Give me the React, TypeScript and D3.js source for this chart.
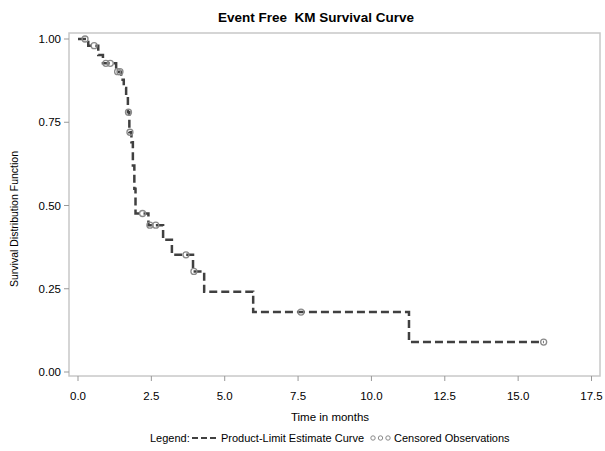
import React from "react";
import * as d3 from "d3";

const stepTimes = [0, 0.35, 0.69, 0.85, 1.3, 1.47, 1.56, 1.64, 1.7, 1.75, 1.82, 1.87, 1.92, 1.96, 2.4, 2.9, 3.2, 3.92, 4.3, 5.97, 11.28];
const survival = [1.0, 0.98, 0.952, 0.927, 0.902, 0.878, 0.853, 0.829, 0.78, 0.72, 0.69, 0.62, 0.55, 0.476, 0.441, 0.397, 0.352, 0.302, 0.241, 0.18, 0.09];
const endTime = 15.87;
const censoredTimes = [0.24, 0.55, 0.95, 1.1, 1.35, 1.43, 1.72, 1.77, 2.2, 2.45, 2.65, 3.68, 3.95, 7.6, 15.87];
const xTicks = [0, 2.5, 5, 7.5, 10, 12.5, 15, 17.5];
const yTicks = [0, 0.25, 0.5, 0.75, 1.0];

const W = 605, H = 451;
const font = "Arial, 'Liberation Sans', sans-serif";

export default function App() {
  const x = d3.scaleLinear().domain([0, 17.5]).range([78, 591.5]);
  const y = d3.scaleLinear().domain([0, 1]).range([372, 39]);
  const frame = { left: 69, right: 600, top: 33, bottom: 376 };

  const pts: [number, number][] = stepTimes.map((t, i) => [t, survival[i]]);
  pts.push([endTime, survival[survival.length - 1]]);
  const line = d3.line<[number, number]>()
    .x(d => x(d[0]))
    .y(d => y(d[1]))
    .curve(d3.curveStepAfter);

  const survAt = (t: number) => {
    const i = d3.bisectRight(stepTimes, t) - 1;
    return survival[Math.max(0, i)];
  };

  const curveColor = "#404040";
  const circColor = "#8a8a8a";

  return (
    <div style={{ position: "fixed", left: 0, top: 0 }}>
      <svg width={W} height={H} style={{ display: "block", background: "#fff" }} fontFamily={font}>
        <text x={316} y={22} textAnchor="middle" fontSize={13.5} fontWeight="bold" style={{ whiteSpace: "pre" }}>
          {"Event Free  KM Survival Curve"}
        </text>
        <rect x={frame.left} y={frame.top} width={frame.right - frame.left} height={frame.bottom - frame.top}
          fill="none" stroke="#c8c8c8" strokeWidth={1.5} />
        {yTicks.map(t => (
          <g key={"y" + t}>
            <line x1={frame.left - 5} x2={frame.left} y1={y(t)} y2={y(t)} stroke="#999" strokeWidth={1} />
            <text x={61} y={y(t) + 4} textAnchor="end" fontSize={11.5}>{d3.format(".2f")(t)}</text>
          </g>
        ))}
        {xTicks.map(t => (
          <g key={"x" + t}>
            <line x1={x(t)} x2={x(t)} y1={frame.bottom} y2={frame.bottom + 5} stroke="#999" strokeWidth={1} />
            <text x={x(t)} y={400} textAnchor="middle" fontSize={11.5}>{d3.format(".1f")(t)}</text>
          </g>
        ))}
        <text transform={`translate(18,219) rotate(-90)`} textAnchor="middle" fontSize={11.5}
          textLength={136} lengthAdjust="spacingAndGlyphs">Survival Distribution Function</text>
        <text x={330} y={421} textAnchor="middle" fontSize={11.5}>Time in months</text>

        <path d={line(pts) || ""} fill="none" stroke={curveColor} strokeWidth={2.5} strokeDasharray="8,4" />
        {censoredTimes.map((t, i) => (
          <circle key={"c" + i} cx={x(t)} cy={y(survAt(t))} r={3} fill="none" stroke={circColor} strokeWidth={1.3} />
        ))}

        <g fontSize={11}>
          <text x={150} y={442}>Legend:</text>
          <line x1={192} x2={218} y1={438} y2={438} stroke={curveColor} strokeWidth={2} strokeDasharray="6,3" />
          <text x={221} y={442}>Product-Limit Estimate Curve</text>
          {[373, 380.5, 388].map(cx => (
            <circle key={cx} cx={cx} cy={438} r={2.2} fill="none" stroke={circColor} strokeWidth={1} />
          ))}
          <text x={394} y={442}>Censored Observations</text>
        </g>
      </svg>
    </div>
  );
}
